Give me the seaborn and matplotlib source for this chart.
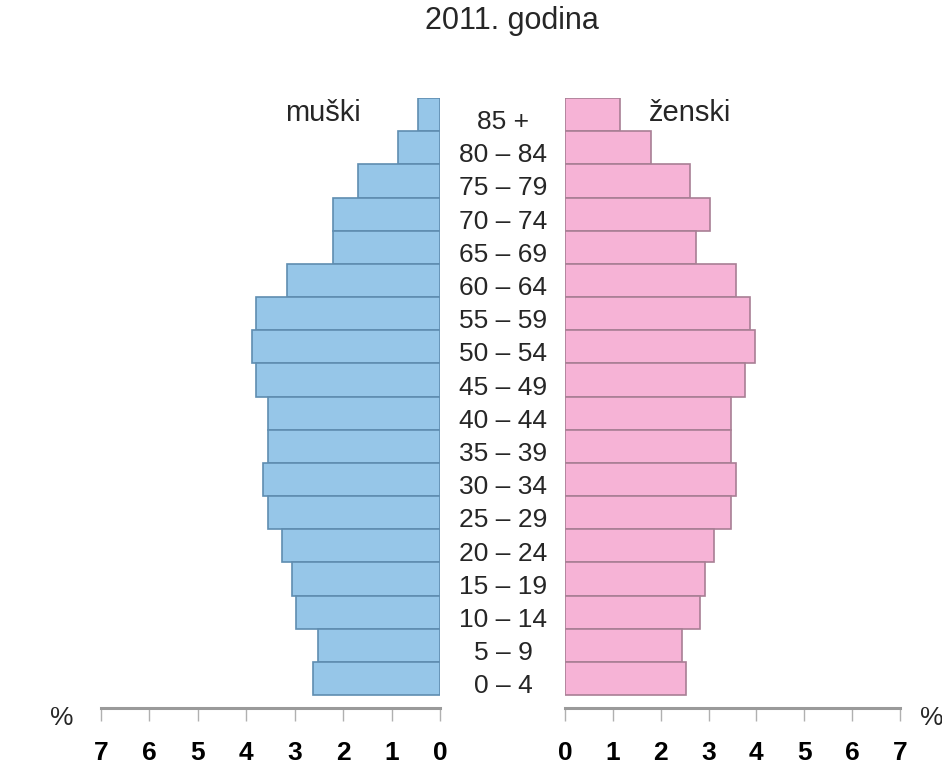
import pandas as pd
import matplotlib
matplotlib.use("Agg")
import matplotlib.pyplot as plt
import seaborn as sns

# Data (percent of population, 2011)
age_groups = ["85 +", "80 – 84", "75 – 79", "70 – 74", "65 – 69", "60 – 64",
              "55 – 59", "50 – 54", "45 – 49", "40 – 44", "35 – 39", "30 – 34",
              "25 – 29", "20 – 24", "15 – 19", "10 – 14", "5 – 9", "0 – 4"]
male = [0.45, 0.87, 1.69, 2.21, 2.21, 3.16, 3.80, 3.88, 3.80, 3.55, 3.55,
        3.66, 3.55, 3.26, 3.06, 2.98, 2.52, 2.62]
female = [1.15, 1.80, 2.61, 3.03, 2.73, 3.57, 3.86, 3.97, 3.76, 3.47, 3.47,
          3.57, 3.47, 3.11, 2.92, 2.82, 2.44, 2.53]
ticks = [0, 1, 2, 3, 4, 5, 6, 7]

df = pd.DataFrame({"age": age_groups, "male": male, "female": female})

sns.set_style("white")
plt.rcParams["font.family"] = ["Liberation Sans Narrow", "Liberation Sans", "DejaVu Sans"]

fig = plt.figure(figsize=(9.42, 7.66), dpi=100)
ax_l = fig.add_axes([101 / 942, 1 - 708 / 766, 339 / 942, 610 / 766])
ax_r = fig.add_axes([565 / 942, 1 - 708 / 766, 335 / 942, 610 / 766])

sns.barplot(data=df, x="male", y="age", order=age_groups, orient="h",
            color="#96C6E8", edgecolor="#5f8db0", linewidth=1.2,
            width=1.0, saturation=1, ax=ax_l)
sns.barplot(data=df, x="female", y="age", order=age_groups, orient="h",
            color="#F6B3D6", edgecolor="#a87f95", linewidth=1.2,
            width=1.0, saturation=1, ax=ax_r)

n = len(age_groups)
for ax in (ax_l, ax_r):
    ax.set_ylim(n - 0.5 + 0.39, -0.5)
    ax.set_yticks([])
    ax.set_xlabel("")
    ax.set_ylabel("")
    for s in ["top", "left", "right"]:
        ax.spines[s].set_visible(False)
    ax.spines["bottom"].set_color("#9a9a9a")
    ax.spines["bottom"].set_linewidth(2.2)
    ax.set_xticks(ticks)
    ax.set_xticklabels([str(t) for t in ticks], fontsize=19, fontweight="bold")
    ax.tick_params(axis="x", bottom=True, direction="out", length=9, width=1,
                   color="#b0b0b0", pad=15, labelcolor="black")
    ax.patch.set_alpha(0)

ax_l.set_xlim(7, 0)
ax_r.set_xlim(0, 7)

# age labels in the middle
for i, lab in enumerate(age_groups):
    y = 1 - (98 + 33.2 * i + 24) / 766
    fig.text(503 / 942, y, lab, ha="center", va="center", fontsize=19)

fig.text(323 / 942, 1 - 113 / 766, "muški", ha="center", va="center", fontsize=21)
fig.text(690 / 942, 1 - 113 / 766, "ženski", ha="center", va="center", fontsize=21)
fig.text(62 / 942, 1 - 718 / 766, "%", ha="center", va="center", fontsize=19)
fig.text(932 / 942, 1 - 718 / 766, "%", ha="center", va="center", fontsize=19)
fig.text(512 / 942, 1 - 21 / 766, "2011. godina", ha="center", va="center", fontsize=22)

fig.savefig("out.png", dpi=100)
